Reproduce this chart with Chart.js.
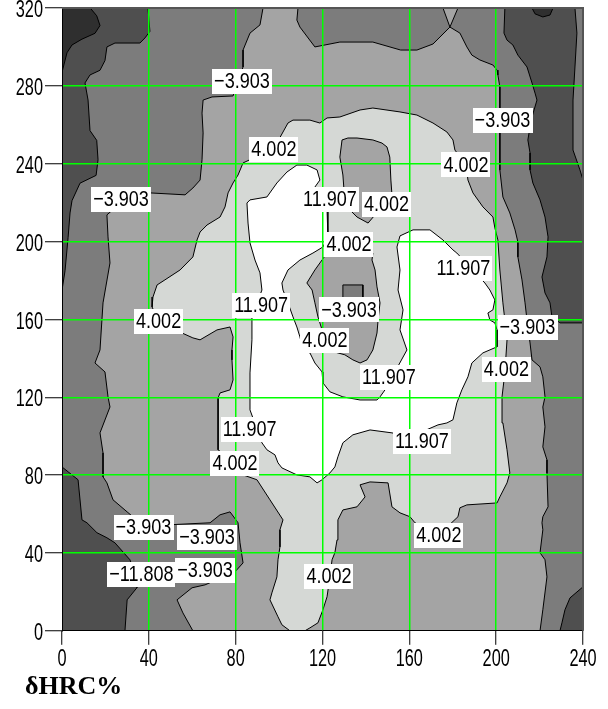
<!DOCTYPE html>
<html>
<head>
<meta charset="utf-8">
<script src="https://cdn.jsdelivr.net/npm/chart.js@4.4.1/dist/chart.umd.min.js"></script>
<style>
  html, body { margin: 0; padding: 0; background: #fff; }
  #wrap { position: relative; width: 608px; height: 709px; }
</style>
</head>
<body>
<div id="wrap"><canvas id="chart"></canvas></div>
<script>
// axis ticks
const xTicks = [0, 40, 80, 120, 160, 200, 240];
const yTicks = [0, 40, 80, 120, 160, 200, 240, 280, 320];

// band fills, from the lowest band to the highest (the contours are -19.713, -11.808, -3.903, 4.002, 11.907)
const bandColors = ['#2f2f2f', '#4f4f4f', '#7c7c7c', '#a4a4a4', '#d5d8d5', '#ffffff'];

// contour polygons, [x, y] in data units
const plotArea = [[0,0],[240,0],[240,320],[0,320]];

const leftBand2 = [[0,320],[92.6,320],[91.2,311.3],[86.6,307.1],[83.4,298.4],[83.4,289.7],[81,282],[78.8,274.8],
  [69.1,274.3],[65,272.7],[64.5,266],[65,255.8],[64.5,242],[63.6,231.6],[60.3,227.5],[56.7,224],[40.5,225],
  [27.2,220],[20.7,213.7],[21.2,202.4],[22.1,189],[18.9,168.5],[17.5,144.3],[15.2,137.6],[19.8,133],[21.2,120.2],
  [22.1,115],[17.5,101.7],[18.9,91.4],[18.9,79.1],[20.7,76],[23.5,67.3],[30,61.1],[37.5,54],[50,54.5],[68.2,55.5],
  [72.8,59.6],[77.4,61.1],[81.1,55.5],[82,45.2],[83.4,34.9],[79.7,30.3],[65.9,23.6],[59.9,22.1],[53,15.9],
  [55.7,9.2],[60.3,0],[0,0]];

const topBand2 = [[108.7,320],[108.2,313.8],[109.6,310.2],[116.5,300],[128,302.5],[143.2,302.5],[156,298.4],
  [163.5,298.4],[170.9,301.5],[178.7,310.2],[175.5,320]];

const rightBand2 = [[182.4,320],[178.7,310.2],[183.3,307.1],[186.5,300],[188.8,295.8],[192.5,293.3],[198.5,290.7],
  [200.4,288.1],[200.8,285.6],[201.7,279.4],[201.7,262.4],[201.7,236.8],[203.1,222.9],[206.3,214.7],[208.7,206],
  [210,199.8],[210,192.1],[211.9,180.3],[213.3,168.5],[214.2,159.7],[215.6,147.9],[216.5,139.2],[220.2,135.6],
  [221.5,130.5],[222.5,120.2],[221.5,115],[222.5,104.8],[221.5,94.5],[223.4,87.8],[223.4,81.1],[223.9,63.7],
  [221.5,58.6],[221.1,55.5],[221.5,51.9],[220.2,40.1],[222.5,36.5],[223.4,27.7],[221.5,10.8],[220.2,0],[240,0],[240,320]];

const topLeftBand1 = [[39.6,320],[40.5,308],[38.2,304.6],[35.9,302],[24.4,302],[20.7,300],[19.8,293],[17.5,288],
  [12.9,285.6],[10.6,281.5],[12,272.7],[12.9,257],[16,252],[16.6,242],[15.7,234],[8.3,230],[4.6,221],[3.7,214.7],
  [2.8,202],[1.4,185],[0,175],[0,320]];

const bottomLeftBand1 = [[0,0],[0,84.2],[7.4,77.6],[9.2,57],[11.5,55.5],[16.1,50.4],[20.7,47.8],[24.4,45.2],
  [31.3,36.5],[34.5,26.2],[34.5,22.1],[30,15.9],[29,0]];

const rightBand1 = [[204,320],[203.6,307.1],[205,303.5],[207.7,301],[210,295.8],[214.2,289.7],[216.5,281.5],
  [217.9,276.3],[218.8,272.7],[216.5,264],[215.6,258.9],[214.6,252.2],[215.6,245.5],[215.6,236.8],[216.9,230.1],
  [220.2,221.4],[222.5,212.6],[223.9,202.4],[223.4,192.1],[221.1,181.8],[222.5,173.6],[224.8,168.5],[225.7,161.3],
  [229.4,158.2],[240,158.2],[240,231.6],[238.6,236.8],[235.4,247],[235.4,272.7],[236.3,289.7],[237.2,307.1],[236.3,320]];

const bottomRightBand1 = [[240,22.6],[234,16.9],[231.7,10.8],[230.3,4.1],[229.4,0],[240,0]];

const topLeftBand0 = [[0,287],[2.3,297],[4.6,301],[9.2,304],[15.2,307],[17.5,311],[16,316],[13,320],[0,320]];

const topRightBand0 = [[216.5,320],[217.9,317],[221.5,315.4],[224.8,316.4],[226.2,320]];

const mainBand4 = [[60.3,150.5],[63.6,149.5],[71.4,154.6],[77.4,156.1],[78.8,151],[78.3,144.3],[78.3,139.2],
  [78.8,128.9],[77.4,123.8],[72.8,122.2],[71.9,119.7],[71.9,112],[71.9,93],[79.7,86.3],[83.4,80.1],[89.8,77.6],
  [95.8,67.3],[101.8,57],[100.4,51.9],[100.4,43.1],[99.5,36.5],[99,27.7],[96.7,19.5],[95.8,15.9],[99.5,7.2],
  [101.3,3.1],[105,0],[111.9,0],[114.2,1.5],[117.9,4.1],[120.2,10.8],[122.1,17.5],[123.4,27.7],[124.4,36.5],
  [125.7,40.1],[126.7,46.7],[127.1,57],[129.4,62.1],[135.9,63.7],[139.6,68.8],[137.3,75],[141.9,76.5],[150.2,76],
  [152,63.7],[155.7,60.6],[160.3,58.6],[162.6,55.5],[173.6,49.3],[182.4,58.6],[183.3,63.2],[186.5,64.7],
  [200.4,65.7],[201.7,68.8],[205,76],[206.3,81.1],[205,93],[203.1,106.8],[202.7,120.2],[204,132.5],[205,149.5],
  [204,159.7],[203.1,168.5],[201.7,185.4],[200.8,200.8],[199.4,207],[198.5,212.6],[193.9,217.8],[189.3,225],
  [187,231.6],[186.1,239.6],[181,247],[180.1,252.2],[177.3,256.3],[170.9,260.9],[163.5,265],[155.7,266.6],
  [143.2,268.6],[137.3,267.6],[128,264],[122.1,263.5],[118.8,260.9],[114.2,262.4],[106.4,262.4],[104.1,260.9],
  [97.6,247.8],[83.4,240.4],[81.1,234.2],[78.8,230.1],[76.5,225],[75.1,217.8],[72.8,212.6],[66.8,208.5],
  [63.6,204.9],[62.2,200.8],[60.3,192.1],[54.4,185.4],[47.4,180.3],[43.8,177.7],[41.9,171.5],[41.5,166.4],
  [44.5,159],[55.3,153]];

const whiteBand5 = [[155.7,202.9],[161.7,206],[169.5,206],[175.5,200.8],[180.1,195.7],[181.9,194.1],[194.8,178.7],
  [197.1,175.1],[199.4,170],[198.5,164.9],[196.2,163.3],[197.1,159.7],[199.4,158.2],[200.4,154.6],[200.4,145.9],
  [193.9,142.8],[188.8,137.6],[187,130.5],[184.2,123.8],[181.9,117.1],[180.1,108.4],[177.3,106.8],[173.2,105.8],
  [160.3,99.6],[152,101.7],[141.9,103.2],[134,100.7],[129.4,96.6],[127.1,89.4],[125.7,84.2],[123.4,81.1],
  [119.8,77.6],[117.5,76],[114.2,79.1],[108.2,80.1],[101.3,83.7],[99.5,86.3],[98.1,90.4],[94.4,93],[92.1,96.6],
  [86.6,113.5],[86.6,132.5],[87.5,149.5],[87.5,161.3],[92.1,175.1],[91.2,183.9],[88.9,190.5],[86.6,199.3],
  [85.7,209.5],[85.2,219.8],[86.6,221.4],[94.4,222.9],[96.7,226.5],[99,230.1],[103.6,235.7],[108.2,239.3],
  [112.8,239.3],[117.5,236.8],[118.8,231.6],[116.5,228],[122.1,216.2],[122.5,202.4],[120.2,197.2],[115.6,194.1],
  [109.6,190.5],[104.1,185.4],[101.3,178.7],[101.8,175.1],[104.1,168.5],[106.4,161.3],[108.2,156.1],[109.6,151],
  [111,144.3],[114.2,142.8],[116.5,137.6],[119.8,133],[120.2,127.4],[123.4,122.8],[129.4,120.2],[137.3,118.6],
  [145.1,118.6],[146.5,120.2],[148.8,123.8],[158.9,144.3],[155.7,154.6],[157.1,164.9],[154.8,175.1],[155.7,185.4],
  [154.3,197.2]];

const centreHole3 = [[132.7,199.3],[143.2,194.1],[142.8,190.5],[144.2,185.4],[145.1,176.7],[146.5,168.5],
  [145.6,159.7],[145.1,153],[143.2,144.3],[141.9,141.8],[140.5,139.2],[137.3,137.6],[134,139.2],[130.3,141.8],
  [122.1,144.3],[121.1,147.9],[119.8,154.6],[117.9,161.3],[116.5,168.5],[115.2,175.1],[112.8,178.7],[116.5,185.4],
  [118.8,189],[122.1,194.1]];

const topHole3 = [[128,243.4],[129,252.2],[131.7,253.2],[135.9,253.2],[143.2,252.2],[147.4,250.6],[149.7,248.6],
  [151,243.4],[151.5,231.6],[152,224],[150.2,219.8],[144.2,213.7],[141,209.5],[135.9,212.6],[131.2,217.8],
  [129.9,226.5],[129.4,234.2]];

const centreSquare2 = [[129.4,177.7],[138.6,177.7],[138.6,164],[129.4,164]];

// paint order, bottom first: [polygon, band, draw contour line]
const layers = [
  [plotArea, 3, false],
  [leftBand2, 2, true],
  [topBand2, 2, true],
  [rightBand2, 2, true],
  [topLeftBand1, 1, true],
  [bottomLeftBand1, 1, true],
  [rightBand1, 1, true],
  [bottomRightBand1, 1, true],
  [topLeftBand0, 0, true],
  [topRightBand0, 0, true],
  [mainBand4, 4, true],
  [whiteBand5, 5, true],
  [centreHole3, 3, true],
  [topHole3, 3, true],
  [centreSquare2, 2, true]
];

// contour labels
const labelText = ['\u22123.903', '4.002', '\u22123.903', '4.002', '\u22123.903', '11.907', '4.002', '4.002',
  '11.907', '\u22123.903', '4.002', '4.002', '11.907', '\u22123.903', '4.002', '11.907', '11.907', '4.002',
  '11.907', '\u22123.903', '\u22123.903', '\u221211.808', '\u22123.903', '4.002', '4.002'];
const labelX = [82.9, 97.6, 202.9, 186.1, 27.2, 123.4, 149.5, 132.2, 91.7, 132.2, 121.1, 44.5, 184.9, 214.4,
  204.7, 150.6, 86.4, 79.7, 165.8, 37.5, 66.8, 36.6, 65.9, 123, 173.6];
const labelY = [282.5, 247.8, 262.5, 239.6, 222.1, 221.9, 219.3, 198.8, 167.4, 165.1, 149.5, 159, 186.4, 155.9,
  134.3, 130.2, 103.7, 86, 97.6, 53.2, 48, 29, 31.3, 28, 49.3];

const sansFont = "'Liberation Sans', Arial, sans-serif";

// narrow text: the original uses a tall condensed face, so squeeze a normal one
function narrowText(ctx, text, x, y, squeeze) {
  ctx.save();
  ctx.translate(x, y);
  ctx.scale(squeeze, 1);
  ctx.fillText(text, 0, 0);
  ctx.restore();
}

// tick labels, frame on the top/right edges and the boxed contour labels
const overlayPlugin = {
  id: 'overlay',
  afterDraw(chart) {
    const { ctx, chartArea: a, scales: { x, y } } = chart;
    ctx.save();
    ctx.strokeStyle = '#555';
    ctx.lineWidth = 2;
    ctx.beginPath();
    ctx.moveTo(a.left, a.top);
    ctx.lineTo(a.right, a.top);
    ctx.lineTo(a.right, a.bottom);
    ctx.stroke();

    ctx.fillStyle = '#000';
    ctx.font = '24px ' + sansFont;
    ctx.textBaseline = 'middle';
    ctx.textAlign = 'center';
    xTicks.forEach(v => narrowText(ctx, String(v), x.getPixelForValue(v), a.bottom + 29, 0.68));
    ctx.textAlign = 'right';
    yTicks.forEach(v => narrowText(ctx, String(v), a.left - 19, y.getPixelForValue(v) + 2.5, 0.68));

    ctx.font = '22px ' + sansFont;
    ctx.textAlign = 'center';
    labelText.forEach((t, i) => {
      const px = x.getPixelForValue(labelX[i]);
      const py = y.getPixelForValue(labelY[i]);
      const w = ctx.measureText(t).width * 0.82 + 4;
      ctx.fillStyle = '#fff';
      ctx.fillRect(Math.round(px - w / 2), Math.round(py - 12), Math.round(w), 25);
      ctx.fillStyle = '#000';
      narrowText(ctx, t, px, py + 1, 0.82);
    });
    ctx.restore();
  }
};

const gridColor = max => c => (c.tick && c.tick.value > 0 && c.tick.value < max) ? '#00ff00' : 'rgba(0,0,0,0)';

new Chart(document.getElementById('chart'), {
  type: 'line',
  data: {
    datasets: layers.map(([pts, band, stroke], i) => ({
      data: pts.concat([pts[0]]).map(([px, py]) => ({ x: px, y: py })),
      fill: 'shape',
      backgroundColor: bandColors[band],
      borderColor: '#000',
      borderWidth: stroke ? 1 : 0,
      pointRadius: 0,
      tension: 0,
      order: -i
    }))
  },
  options: {
    responsive: true,
    maintainAspectRatio: false,
    animation: false,
    events: [],
    layout: { autoPadding: false, padding: { top: 8, right: 25, bottom: 0, left: 25 } },
    scales: {
      x: {
        type: 'linear', min: 0, max: 240,
        afterBuildTicks: s => { s.ticks = xTicks.map(v => ({ value: v })); },
        afterFit: s => { s.height = 39; },
        grid: { z: 1, color: gridColor(240), lineWidth: 1.5, tickColor: '#000', tickWidth: 1, tickLength: 14 },
        border: { z: 1, color: '#000', width: 1 },
        ticks: { display: false }
      },
      y: {
        type: 'linear', min: 0, max: 320,
        afterBuildTicks: s => { s.ticks = yTicks.map(v => ({ value: v })); },
        afterFit: s => { s.width = 37; },
        grid: { z: 1, color: gridColor(320), lineWidth: 1.5, tickColor: '#000', tickWidth: 1, tickLength: 17 },
        border: { z: 1, color: '#000', width: 1 },
        ticks: { display: false }
      }
    },
    plugins: {
      legend: { display: false },
      tooltip: { enabled: false },
      title: {
        display: true,
        text: '\u03b4HRC%',
        position: 'bottom',
        align: 'start',
        color: '#000',
        font: { family: "'Liberation Serif', 'DejaVu Serif', serif", size: 26, weight: 'bold' },
        padding: { top: 2, bottom: 6 }
      }
    }
  },
  plugins: [overlayPlugin]
});
</script>
</body>
</html>
